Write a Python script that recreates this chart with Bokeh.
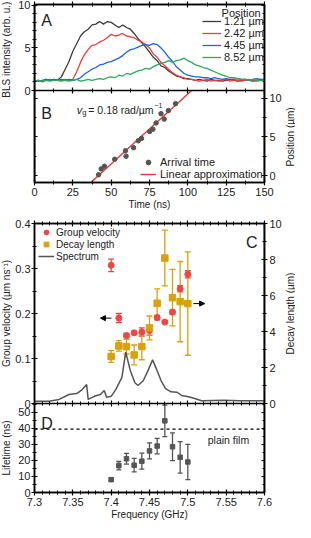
import math
from bokeh.plotting import figure
from bokeh.models import (Range1d, LinearAxis, FixedTicker, CustomJSTickFormatter, Legend,
                          Label, Arrow, NormalHead, Whisker, TeeHead, ColumnDataSource, Span)
from bokeh.layouts import column, row
from bokeh.embed import file_html
from bokeh.resources import INLINE

FONT = "Liberation Sans"

# ---------------- data: panel A (BLS intensity vs time) ----------------
time_ns = [0, 2.5, 5, 7.5, 10, 12.5, 15, 17.5, 20, 22.5,
           25, 27.5, 30, 32.5, 35, 37.5, 40, 42.5, 45, 47.5,
           50, 52.5, 55, 57.5, 60, 62.5, 65, 67.5, 70, 72.5,
           75, 77.5, 80, 82.5, 85, 87.5, 90, 92.5, 95, 97.5,
           100, 102.5, 105, 107.5, 110, 112.5, 115, 117.5, 120, 122.5,
           125, 127.5, 130, 132.5, 135, 137.5, 140, 142.5, 145, 147.5,
           150]
bls_121 = [1.1, 1.2, 1.1, 1.3, 1.2, 1.3, 1.2, 1.6, 2.5, 3.4,
           4.6, 5.5, 6.4, 6.9, 7.2, 7.7, 7.8, 8.1, 7.8, 8.1,
           8.0, 7.7, 7.4, 7.7, 7.4, 7.2, 6.7, 6.1, 5.6, 5.1,
           4.5, 3.9, 3.5, 2.9, 2.7, 2.3, 2.0, 1.7, 1.6, 1.4,
           1.4, 1.3, 1.2, 1.3, 1.2, 1.1, 1.3, 1.2, 1.2, 1.1,
           1.2, 1.3, 1.2, 1.1, 1.2, 1.3, 1.2, 1.1, 1.2, 1.3,
           1.2]
bls_242 = [1.1, 1.2, 1.0, 1.2, 1.3, 1.2, 1.3, 1.2, 1.3, 1.2,
           1.3, 2.2, 3.3, 4.2, 4.8, 5.3, 5.4, 5.7, 5.9, 6.2,
           6.6, 6.4, 6.5, 6.7, 6.4, 6.3, 6.2, 5.9, 5.7, 5.4,
           5.0, 4.3, 3.9, 3.3, 2.9, 2.5, 2.1, 1.8, 1.6, 1.5,
           1.3, 1.3, 1.2, 1.1, 1.2, 1.3, 1.1, 1.2, 1.1, 1.2,
           1.3, 1.1, 1.2, 1.2, 1.1, 1.2, 1.3, 1.2, 1.1, 1.2,
           1.2]
bls_445 = [1.2, 1.1, 1.2, 1.3, 1.2, 1.3, 1.2, 1.3, 1.2, 1.3,
           1.2, 1.3, 1.5, 1.9, 2.2, 2.5, 2.7, 3.0, 3.1, 3.3,
           3.4, 3.6, 3.8, 4.1, 4.5, 4.8, 4.9, 5.1, 5.3, 5.4,
           5.3, 5.5, 5.4, 5.0, 4.5, 3.9, 3.4, 2.8, 2.4, 2.0,
           1.8, 1.7, 1.6, 1.6, 1.5, 1.5, 1.4, 1.5, 1.4, 1.3,
           1.4, 1.3, 1.3, 1.4, 1.3, 1.3, 1.2, 1.3, 1.4, 1.3,
           1.3]
bls_852 = [1.1, 1.2, 1.1, 1.2, 1.1, 1.2, 1.2, 1.1, 1.2, 1.1,
           1.2, 1.3, 1.1, 1.2, 1.3, 1.2, 1.3, 1.4, 1.3, 1.5,
           1.6, 1.5, 1.8, 1.7, 2.0, 1.9, 2.1, 2.3, 2.4, 2.6,
           2.5, 2.8, 3.0, 3.2, 3.3, 3.5, 3.3, 3.5, 3.6, 3.8,
           3.5, 3.3, 3.0, 2.9, 2.7, 2.6, 2.4, 2.2, 2.0, 1.8,
           1.7, 1.5, 1.5, 1.4, 1.3, 1.3, 1.2, 1.3, 1.2, 1.2,
           1.2]
position_labels = ["1.21 µm", "2.42 µm", "4.45 µm", "8.52 µm"]

# ---------------- data: panel B (arrival time vs position) ----------------
arrival_time = [41.8, 43.5, 45.6, 52.3, 59.3, 59.7, 64.6, 67.7,
                69.8, 75.1, 77.2, 79.3, 82.5, 84.6, 87.3, 92.0]
arrival_pos = [0.1, 0.86, 1.2, 2.1, 3.2, 2.5, 3.6, 4.5,
               4.8, 5.7, 6.0, 6.8, 8.0, 7.3, 8.4, 9.3]
fit_slope = 0.181      # um / ns
fit_t0 = 41.7          # ns at position 0

# ---------------- data: panels C and D ----------------
freq = [7.40, 7.41, 7.42, 7.43, 7.44, 7.45, 7.46, 7.47, 7.48, 7.49, 7.50]
group_velocity = [0.307, 0.190, 0.151, 0.157, 0.159, 0.162, 0.191, 0.181, 0.203, 0.255, 0.287]
group_velocity_err = [0.014, 0.010, 0.005, 0.004, 0.009, 0.010, 0.005, 0.003, 0.005, 0.007, 0.008]
decay_length = [2.61, 3.20, 3.16, 2.70, 3.16, 4.20, 5.57, 8.08, 5.88, 5.66, 5.55]
decay_length_err = [0.33, 0.29, 0.41, 0.55, 0.73, 0.66, 0.80, 1.55, 1.57, 2.23, 2.87]
lifetime = [8.0, 16.7, 21.0, 17.0, 19.5, 25.9, 28.9, 44.6, 28.5, 21.9, 19.0]
lifetime_err = [1.0, 2.6, 3.3, 4.2, 5.0, 5.0, 4.8, 9.8, 8.6, 9.8, 11.0]
plain_film_lifetime = 39.5

spec_freq = [7.300, 7.319, 7.332, 7.345, 7.355, 7.361, 7.368, 7.370, 7.378, 7.386,
             7.391, 7.394, 7.400, 7.406, 7.414, 7.419, 7.425, 7.431, 7.435, 7.442,
             7.448, 7.454, 7.459, 7.465, 7.471, 7.478, 7.486, 7.492, 7.501, 7.509,
             7.518, 7.547, 7.568, 7.600]
spec_val = [0.005, 0.005, 0.009, 0.020, 0.022, 0.029, 0.042, 0.009, 0.016, 0.020,
            0.029, 0.014, 0.016, 0.031, 0.058, 0.114, 0.073, 0.046, 0.040, 0.051,
            0.073, 0.097, 0.077, 0.051, 0.033, 0.026, 0.025, 0.018, 0.015, 0.011,
            0.006, 0.007, 0.006, 0.006]

freq_major = [7.3, 7.35, 7.4, 7.45, 7.5, 7.55, 7.6]
time_major = [0, 25, 50, 75, 100, 125, 150]
time_minor = [12.5, 37.5, 62.5, 87.5, 112.5, 137.5]

# ---------------- layout / style ----------------
STRIP_L, STRIP_R = 12, 11
MAIN_W = 272
LEFT, RIGHT = 20, 18          # main-figure borders -> frame width 234
C_BLACK = "#3c3c3c"
C_RED = "#f03c3c"
C_BLUE = "#1f63e6"
C_GREEN = "#2fa85a"
C_PT_RED = "#f04646"
C_GOLD = "#d8a20c"
C_GRAY = "#555555"
TXT = "#222222"
TICK_FMT = "return String(+tick.toFixed(3));"


def style_axis(ax, show_labels, tin=3, tout=3, min_in=2, min_out=2, standoff=2):
    ax.axis_line_color = "black"
    ax.axis_line_width = 1.5
    ax.major_tick_line_color = "black"
    ax.major_tick_line_width = 1.2
    ax.minor_tick_line_color = "black"
    ax.minor_tick_line_width = 1.0
    ax.major_tick_in = tin
    ax.major_tick_out = tout
    ax.minor_tick_in = min_in
    ax.minor_tick_out = min_out
    ax.major_label_text_font = FONT
    ax.major_label_text_font_size = "11px"
    ax.major_label_standoff = standoff
    ax.major_label_text_color = TXT if show_labels else None
    ax.axis_label_text_font = FONT
    ax.axis_label_text_font_size = "10px"
    ax.axis_label_text_font_style = "normal"
    ax.axis_label_text_color = TXT
    ax.axis_label_standoff = 0
    ax.formatter = CustomJSTickFormatter(code=TICK_FMT)
    return ax


def txt(p, text, x, y, size="11px", rng=None, **kw):
    opts = dict(x=x, y=y, text=text, text_font=FONT, text_font_size=size, text_color=TXT)
    if rng is not None:
        opts["y_range_name"] = rng
    opts.update(kw)
    p.add_layout(Label(**opts))


def ext(lo, hi, frame_px, top_px, bot_px):
    upp = (hi - lo) / frame_px
    return Range1d(lo - bot_px * upp, hi + top_px * upp)


def strip(width, height, y_range, extra):
    s = figure(width=width, height=height, x_range=Range1d(0, 1), y_range=y_range,
               extra_y_ranges=extra, x_axis_location=None, y_axis_location=None,
               min_border_left=0, min_border_right=0, min_border_top=0, min_border_bottom=0,
               output_backend="svg", toolbar_location=None)
    s.outline_line_color = None
    s.grid.visible = False
    return s


# ======================= figure AB =======================
AB_TOP, AB_BOT = 4, 34
A_PX, B_PX = 86, 92
AB_PX = A_PX + B_PX
AB_H = AB_TOP + AB_PX + AB_BOT
A_top = 10.1
A_lo = -A_top * B_PX / A_PX
B_lo, B_top = -0.9, 11.0
B_hi = B_top + (B_top - B_lo) * A_PX / B_PX

pAB = figure(width=MAIN_W, height=AB_H, x_range=Range1d(0, 150), y_range=Range1d(B_lo, B_hi),
             extra_y_ranges={"A": Range1d(A_lo, A_top)},
             x_axis_location=None, y_axis_location=None,
             min_border_left=LEFT, min_border_right=RIGHT, min_border_top=AB_TOP,
             min_border_bottom=AB_BOT, output_backend="svg", toolbar_location=None)
pAB.grid.visible = False
pAB.outline_line_color = "black"
pAB.outline_line_width = 1.5

a_ticks = dict(ticks=[0, 5, 10], minor_ticks=[1, 2, 3, 4, 6, 7, 8, 9])
b_ticks = dict(ticks=[0, 5, 10], minor_ticks=[2.5, 7.5])
t_ticks = dict(ticks=time_major, minor_ticks=time_minor)

pAB.add_layout(style_axis(LinearAxis(y_range_name="A", ticker=FixedTicker(**a_ticks)), True,
                          standoff=1), "left")
pAB.add_layout(style_axis(LinearAxis(fixed_location=0, ticker=FixedTicker(**b_ticks)), False), "left")
pAB.add_layout(style_axis(LinearAxis(y_range_name="A", fixed_location=150,
                                     ticker=FixedTicker(**a_ticks)), False), "right")
pAB.add_layout(style_axis(LinearAxis(ticker=FixedTicker(**b_ticks)), True), "right")
pAB.add_layout(style_axis(LinearAxis(ticker=FixedTicker(**t_ticks)), False), "above")
pAB.add_layout(style_axis(LinearAxis(y_range_name="A", fixed_location=0,
                                     ticker=FixedTicker(**t_ticks)), False), "below")
pAB.add_layout(style_axis(LinearAxis(ticker=FixedTicker(**t_ticks), axis_label="Time (ns)"),
                          True), "below")

series = [bls_121, bls_242, bls_445, bls_852]
colors = [C_BLACK, C_RED, C_BLUE, C_GREEN]
a_items = []
for lab, ys, col in zip(position_labels, series, colors):
    r = pAB.line(time_ns, ys, y_range_name="A", line_color=col, line_width=1.3)
    a_items.append((lab, [r]))

legA = Legend(items=a_items, location=(168, 119), glyph_width=19, glyph_height=12,
              label_height=12, label_standoff=3, spacing=0, padding=0, margin=0,
              border_line_color=None, background_fill_alpha=0,
              label_text_font=FONT, label_text_font_size="11px", label_text_color=TXT)
pAB.add_layout(legA)
txt(pAB, "Position", 122, 9.05, rng="A", text_baseline="alphabetic")
txt(pAB, "A", 4.4, 8.2, size="16px", rng="A", text_baseline="alphabetic")

# panel B
fit_pos = [B_lo, B_top]
fit_t = [fit_t0 + v / fit_slope for v in fit_pos]
r_fit = pAB.line(fit_t, fit_pos, line_color=C_RED, line_width=1.5)
r_arr = pAB.scatter(arrival_time, arrival_pos, marker="circle", size=4.5,
                    fill_color=C_GRAY, line_color=C_GRAY)
legB = Legend(items=[("Arrival time", [r_arr]), ("Linear approximation", [r_fit])],
              location=(106, 2), glyph_width=16, glyph_height=12, label_height=12,
              label_standoff=4, spacing=0, padding=0, margin=0,
              border_line_color=None, background_fill_alpha=0,
              label_text_font=FONT, label_text_font_size="11px", label_text_color=TXT)
pAB.add_layout(legB)
txt(pAB, "B", 4.4, 8.06, size="16px", text_baseline="alphabetic")
txt(pAB, "v", 27.6, 8.5, size="11px", text_font_style="italic", text_baseline="alphabetic")
txt(pAB, "g", 27.6, 8.5, size="7.5px", x_offset=5.5, y_offset=-2.5, text_baseline="alphabetic")
txt(pAB, "= 0.18 rad/µm", 27.6, 8.5, size="10.5px", x_offset=11.5, text_baseline="alphabetic")
txt(pAB, "−1", 27.6, 8.5, size="7px", x_offset=77.5, y_offset=4, text_baseline="alphabetic")

# axis-title strips for AB (same vertical mapping as pAB, frame = whole strip)
leftAB = strip(STRIP_L, AB_H, ext(B_lo, B_hi, AB_PX, AB_TOP, AB_BOT),
               {"A": ext(A_lo, A_top, AB_PX, AB_TOP, AB_BOT)})
txt(leftAB, "BLS intensity (arb. u.)", 0.5, 4.8, size="10px", rng="A",
    angle=math.pi / 2, text_align="center", text_baseline="middle")
rightAB = strip(STRIP_R, AB_H, ext(B_lo, B_hi, AB_PX, AB_TOP, AB_BOT), {})
txt(rightAB, "Position (µm)", 0.5, 5.0, size="10px",
    angle=math.pi / 2, text_align="center", text_baseline="middle")

# ======================= figure CD =======================
CD_TOP, CD_BOT = 7, 30
C_PX, D_PX = 180, 89
CD_PX = C_PX + D_PX
CD_H = CD_TOP + CD_PX + CD_BOT
gv_top = 0.4
gv_lo = -gv_top * D_PX / C_PX
dl_top = 10.0
dl_lo = -dl_top * D_PX / C_PX
lt_top = 55.4
lt_hi = lt_top * CD_PX / D_PX

pCD = figure(width=MAIN_W, height=CD_H, x_range=Range1d(7.3, 7.6),
             y_range=Range1d(gv_lo, gv_top),
             extra_y_ranges={"decay": Range1d(dl_lo, dl_top), "life": Range1d(0, lt_hi)},
             x_axis_location=None, y_axis_location=None,
             min_border_left=LEFT, min_border_right=RIGHT, min_border_top=CD_TOP,
             min_border_bottom=CD_BOT, output_backend="svg", toolbar_location=None)
pCD.grid.visible = False
pCD.outline_line_color = "black"
pCD.outline_line_width = 1.5

# one left axis carries both the group-velocity (C) and lifetime (D) scales
life_major = [0, 10, 20, 30, 40, 50]
life_minor = [5, 15, 25, 35, 45, 55]
life_to_gv = lambda v: gv_lo + v * (-gv_lo) / lt_top
left_major = [0, 0.1, 0.2, 0.3, 0.4] + [life_to_gv(v) for v in life_major]
left_minor = [0.05, 0.15, 0.25, 0.35] + [life_to_gv(v) for v in life_minor]
axL = style_axis(LinearAxis(ticker=FixedTicker(ticks=left_major, minor_ticks=left_minor)), True,
                 standoff=1)
axL.formatter = CustomJSTickFormatter(args=dict(lo=gv_lo, top=lt_top), code="""
    if (tick > -1e-9) { return String(+tick.toFixed(3)); }
    return String(Math.round((tick - lo) * top / (-lo)));
""")
pCD.add_layout(axL, "left")

dl_ticks = dict(ticks=[0, 2, 4, 6, 8, 10], minor_ticks=[1, 3, 5, 7, 9])
lt_ticks = dict(ticks=life_major, minor_ticks=life_minor)
f_minor = [round(7.3 + 0.01 * i, 2) for i in range(31) if i % 5 != 0]
f_ticks = dict(ticks=freq_major, minor_ticks=f_minor)

pCD.add_layout(style_axis(LinearAxis(y_range_name="decay", ticker=FixedTicker(**dl_ticks)), True),
               "right")
pCD.add_layout(style_axis(LinearAxis(y_range_name="life", fixed_location=7.6,
                                     ticker=FixedTicker(**lt_ticks)), False), "right")
pCD.add_layout(style_axis(LinearAxis(ticker=FixedTicker(**f_ticks)), False), "above")
pCD.add_layout(style_axis(LinearAxis(fixed_location=0, ticker=FixedTicker(**f_ticks)), False), "below")
pCD.add_layout(style_axis(LinearAxis(ticker=FixedTicker(**f_ticks), axis_label="Frequency (GHz)"),
                          True), "below")


def err_src(x, y, e):
    return ColumnDataSource(dict(x=x, y=y, lo=[a - b for a, b in zip(y, e)],
                                 hi=[a + b for a, b in zip(y, e)]))


def add_whisker(p, src, col, cap, rng=None):
    kw = dict(source=src, base="x", upper="hi", lower="lo", dimension="height",
              line_color=col, line_width=1.3,
              upper_head=TeeHead(size=cap, line_color=col, line_width=1.3),
              lower_head=TeeHead(size=cap, line_color=col, line_width=1.3))
    if rng:
        kw["y_range_name"] = rng
    w = Whisker(**kw)
    w.level = "underlay"
    p.add_layout(w)


r_spec = pCD.line(spec_freq, spec_val, line_color=C_GRAY, line_width=1.5)

src_gv = err_src(freq, group_velocity, group_velocity_err)
add_whisker(pCD, src_gv, C_PT_RED, 6)
r_gv = pCD.scatter("x", "y", source=src_gv, marker="circle", size=6,
                   fill_color=C_PT_RED, line_color=C_PT_RED)

src_dl = err_src(freq, decay_length, decay_length_err)
add_whisker(pCD, src_dl, C_GOLD, 6, "decay")
r_dl = pCD.scatter("x", "y", source=src_dl, marker="square", size=6.5, y_range_name="decay",
                   fill_color=C_GOLD, line_color=C_GOLD)

legC = Legend(items=[("Group velocity", [r_gv]), ("Decay length", [r_dl]), ("Spectrum", [r_spec])],
              location=(4, 230), glyph_width=16, glyph_height=12, label_height=11,
              label_standoff=2, spacing=0, padding=0, margin=0,
              border_line_color=None, background_fill_alpha=0,
              label_text_font=FONT, label_text_font_size="10px", label_text_color=TXT)
pCD.add_layout(legC)

pCD.add_layout(Arrow(end=NormalHead(size=5, fill_color="black", line_color="black"),
                     x_start=7.4003, y_start=0.1897, x_end=7.386, y_end=0.1897,
                     line_color="black", line_width=1))
pCD.add_layout(Arrow(end=NormalHead(size=5, fill_color="black", line_color="black"),
                     x_start=7.5072, y_start=5.55, x_end=7.5219, y_end=5.55,
                     y_range_name="decay", line_color="black", line_width=1))
txt(pCD, "C", 7.576, 0.3575, size="16px", text_baseline="alphabetic")

# panel D
pCD.add_layout(Span(location=plain_film_lifetime, dimension="width", y_range_name="life",
                    line_color="black", line_width=1.2, line_dash="3 3"))
src_lt = err_src(freq, lifetime, lifetime_err)
add_whisker(pCD, src_lt, C_GRAY, 5, "life")
pCD.scatter("x", "y", source=src_lt, marker="square", size=4.5, y_range_name="life",
            fill_color=C_GRAY, line_color=C_GRAY)
txt(pCD, "plain film", 7.526, 32.5, size="10.5px", rng="life", text_baseline="alphabetic")
txt(pCD, "D", 7.3089, 43.2, size="16px", rng="life", text_baseline="alphabetic")

# axis-title strips for CD
leftCD = strip(STRIP_L, CD_H, ext(gv_lo, gv_top, CD_PX, CD_TOP, CD_BOT),
               {"life": ext(0, lt_hi, CD_PX, CD_TOP, CD_BOT)})
txt(leftCD, "Group velocity (µm ns⁻¹)", 0.5, 0.2, size="10px",
    angle=math.pi / 2, text_align="center", text_baseline="middle")
txt(leftCD, "Lifetime (ns)", 0.5, 27.7, size="10px", rng="life",
    angle=math.pi / 2, text_align="center", text_baseline="middle")
rightCD = strip(STRIP_R, CD_H, ext(gv_lo, gv_top, CD_PX, CD_TOP, CD_BOT),
                {"decay": ext(dl_lo, dl_top, CD_PX, CD_TOP, CD_BOT)})
txt(rightCD, "Decay length (µm)", 0.5, 5.0, size="10px", rng="decay",
    angle=math.pi / 2, text_align="center", text_baseline="middle")

layout = row(column(leftAB, leftCD, spacing=0),
             column(pAB, pCD, spacing=0),
             column(rightAB, rightCD, spacing=0), spacing=0)
open("out.html", "w").write(file_html(layout, INLINE, title="BLS spin-wave propagation"))
